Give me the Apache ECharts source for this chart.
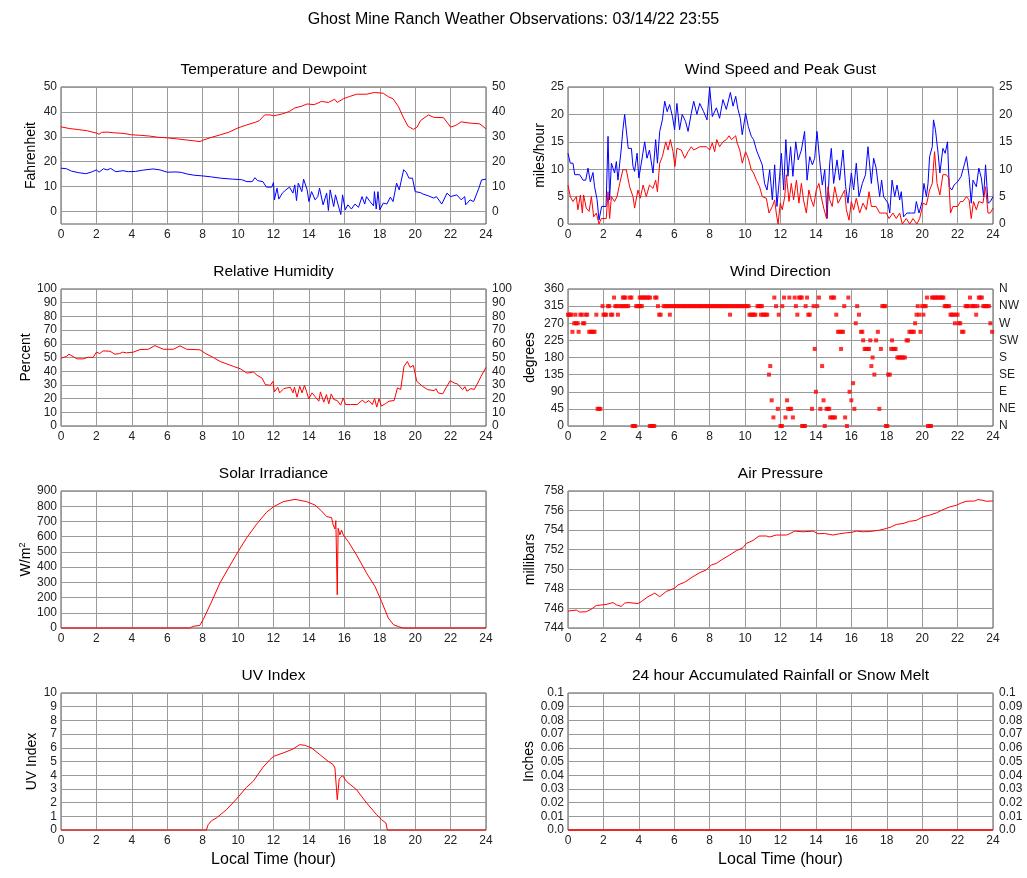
<!DOCTYPE html>
<html>
<head>
<meta charset="utf-8">
<title>Ghost Mine Ranch Weather Observations</title>
<script src="https://cdn.jsdelivr.net/npm/echarts@6/dist/echarts.min.js"></script>
<style>
  html, body { margin: 0; padding: 0; background: #fff; }
  #main { width: 1027px; height: 878px; }
</style>
</head>
<body>
<div id="main"></div>
<script>
// readings as [local hour, value]
var temperature = [[0,34],[0.5,33.3],[1,32.9],[1.5,32.4],[2,31.5],[2.15,31],[2.3,31.8],[2.6,31.9],[3,31.6],[3.5,31.4],[4,30.8],[4.5,30.6],[5,30.3],[5.5,29.8],[6,29.6],[6.5,29.2],[7,28.8],[7.5,28.4],[7.85,28.1],[8,28.6],[8.5,29.8],[9,30.8],[9.5,31.9],[10,33.6],[10.5,34.8],[11,35.9],[11.2,36.5],[11.5,38.8],[11.8,38.8],[12,38.4],[12.5,39.2],[12.9,40.2],[13.2,41.6],[13.6,42.3],[13.9,43.2],[14.3,42.9],[14.7,44.2],[15.1,43.8],[15.45,45.1],[15.6,43.8],[15.95,45.3],[16.3,46.2],[16.7,47.1],[17.25,47.1],[17.7,47.8],[18.2,47.5],[18.5,46],[18.75,45.3],[19.05,42.2],[19.35,37.5],[19.6,34.2],[19.9,33],[20.1,33.8],[20.3,36.5],[20.75,38.8],[21.05,37.8],[21.6,37.7],[22,33.9],[22.3,34.6],[22.6,36],[23.1,35.5],[23.65,35.2],[24,33.2]];
var dewpoint = [[0,17.4],[0.3,17.2],[0.6,16.2],[1,15.6],[1.4,15.2],[1.7,15.8],[2,16.7],[2.15,15.8],[2.4,17.2],[2.6,16.7],[2.8,17.3],[3.1,16],[3.5,16.4],[3.8,16],[4.2,16.1],[4.6,16.6],[5.2,17.1],[5.6,16.7],[6,15.8],[6.5,15.9],[6.8,15.7],[7.1,15.1],[7.5,14.6],[8,14.3],[8.5,13.9],[9,13.4],[9.7,13],[10.2,12.8],[10.5,12],[10.8,12],[10.95,13.6],[11.1,12.4],[11.4,12],[11.6,9.8],[11.9,9.8],[12,11.7],[12.05,4.7],[12.2,9.4],[12.3,5],[12.5,7.4],[12.7,8.7],[12.9,9.8],[13.1,7.4],[13.2,10.7],[13.3,4.4],[13.4,11.4],[13.6,8],[13.7,13],[13.9,8.7],[14,4],[14.15,8],[14.35,4.7],[14.5,6],[14.6,9.4],[14.8,2.7],[15,7.4],[15.1,0.4],[15.2,8.7],[15.4,2],[15.5,6.7],[15.65,2.7],[15.8,-1.2],[15.9,6.7],[16.05,0.7],[16.2,2.7],[16.4,1],[16.6,3],[16.8,1.7],[17,6],[17.15,3],[17.25,6],[17.45,4],[17.65,2.3],[17.7,8],[17.8,1],[17.9,8],[18,0.7],[18.2,3.4],[18.4,3],[18.6,5.8],[18.75,4],[18.95,11.4],[19.1,8.7],[19.35,16.8],[19.5,15.7],[19.65,13.4],[19.85,13.4],[20,8],[20.3,7.6],[20.45,7],[20.75,6.3],[21.05,5.4],[21.2,6],[21.5,3],[21.8,7.4],[22,6],[22.35,6.7],[22.6,4.7],[22.8,6],[22.85,2.7],[23.1,4.7],[23.3,4],[23.6,9.4],[23.75,12.7],[24,13]];
var windSpeed = [[0,7.1],[0.13,5],[0.28,4.1],[0.47,5],[0.56,2.6],[0.7,5.3],[0.81,2],[0.88,5.3],[1.03,2.9],[1.19,2.3],[1.32,5],[1.45,1.3],[1.6,2],[1.75,0],[1.88,1],[2.16,1],[2.26,5.9],[2.35,1],[2.45,5],[2.63,4.1],[2.77,5],[2.92,7.4],[3.1,9.9],[3.29,9.9],[3.48,6.8],[3.67,5],[3.76,2.9],[3.95,6.2],[4.08,4.7],[4.24,7.1],[4.42,5],[4.6,7.1],[4.8,6.5],[4.95,8],[5.05,5.9],[5.18,11.1],[5.33,12.3],[5.52,15],[5.65,13.5],[5.78,15.4],[5.93,13.2],[6.04,10.5],[6.15,13.8],[6.4,13.5],[6.59,12],[6.78,13.2],[6.96,14.1],[7.1,13.5],[7.44,14.1],[7.81,14.1],[8,13.5],[8.15,14.8],[8.28,13.2],[8.4,15.4],[8.56,14.1],[8.75,15],[8.94,15.4],[9.1,16.1],[9.23,15.4],[9.47,16.1],[9.55,14.8],[9.7,13.5],[9.84,11.1],[10.03,13.2],[10.18,12],[10.35,9.9],[10.48,9.3],[10.64,8],[10.82,6.8],[10.97,5],[11.2,4.7],[11.35,2],[11.54,3.2],[11.67,4.4],[11.76,2],[11.86,0],[11.99,3.8],[12.1,2.6],[12.24,5],[12.33,9],[12.48,4.1],[12.61,7.4],[12.74,4.4],[12.9,8],[13.04,3.8],[13.18,7.4],[13.3,4.4],[13.46,2],[13.6,6.2],[13.74,4.4],[13.87,3.2],[14.02,6.2],[14.17,7.4],[14.3,5],[14.44,2.9],[14.6,1],[14.68,6.8],[14.78,4.4],[14.92,3.2],[15.06,6.8],[15.25,3.8],[15.44,5],[15.62,6.2],[15.72,2.6],[15.87,0.7],[16,4.1],[16.13,2.6],[16.28,4.7],[16.47,2],[16.66,3.8],[16.85,2.6],[17,5.9],[17.13,3.2],[17.4,3.2],[17.6,2],[17.98,2],[18.13,1],[18.35,2],[18.54,1],[18.73,2],[18.88,0],[19.1,1],[19.3,0],[19.48,1],[19.7,0],[19.86,1],[20.05,3.8],[20.24,3.5],[20.42,6.2],[20.57,7.4],[20.7,13.2],[20.84,7.4],[21,5.3],[21.17,9],[21.36,9],[21.5,8.4],[21.6,2],[21.74,3.2],[22,3.2],[22.16,4.1],[22.3,4.1],[22.5,5],[22.65,4.4],[22.77,1],[22.9,4.1],[23.06,2.6],[23.2,4.1],[23.43,3.8],[23.58,6.8],[23.72,2],[23.85,2],[24,2.9]];
var peakGust = [[0,12.9],[0.13,11.1],[0.28,11.1],[0.38,9],[0.66,9],[0.85,8],[1,8],[1.13,10.2],[1.26,7.7],[1.41,9.4],[1.5,6.8],[1.64,4.5],[1.75,0.7],[1.9,3.2],[2.15,3.2],[2.26,16],[2.35,4.4],[2.45,11.1],[2.63,9.3],[2.73,11.4],[2.82,8],[3,13.5],[3.1,17.2],[3.2,20],[3.4,13.8],[3.58,13.8],[3.67,10.5],[3.76,9.6],[3.9,12.9],[4,8.4],[4.14,11.1],[4.33,15],[4.46,12],[4.6,13.5],[4.8,9.3],[4.95,15.4],[5.05,11.1],[5.18,16.9],[5.33,19],[5.46,22.4],[5.6,20.5],[5.74,21.8],[5.9,19.6],[6.02,17.2],[6.15,22],[6.3,17.2],[6.45,20],[6.64,18.7],[6.78,16.9],[6.96,20.2],[7.1,22.4],[7.28,20],[7.44,22],[7.66,20.5],[7.85,19],[8,25],[8.15,19.6],[8.38,21.2],[8.56,19.3],[8.75,22.7],[8.94,20.9],[9.17,24],[9.32,21.5],[9.47,23.3],[9.6,20.9],[9.73,19.3],[9.84,16.3],[10.03,20.2],[10.18,17.8],[10.35,16],[10.48,15.4],[10.64,13.5],[10.86,11.7],[10.97,10.8],[11.1,7.4],[11.24,6.2],[11.39,9.9],[11.54,4.4],[11.67,10.8],[11.8,3.2],[11.95,8.7],[12.05,12.9],[12.18,6.2],[12.3,15.4],[12.42,8.7],[12.57,14.1],[12.7,8.7],[12.86,15],[13,11.7],[13.18,13.5],[13.36,16.9],[13.5,8],[13.65,12.3],[13.8,10.8],[13.93,12],[14.06,16.9],[14.21,11.7],[14.36,7.1],[14.5,9.9],[14.63,1],[14.78,11.1],[14.87,13.8],[15,7.4],[15.19,11.7],[15.34,8],[15.53,13.5],[15.68,6.8],[15.81,3.8],[16,9.3],[16.13,6.2],[16.28,11.1],[16.43,5],[16.62,7.4],[16.8,9],[16.94,14.1],[17.13,7.4],[17.26,12],[17.4,10.2],[17.6,5],[17.71,8],[17.82,5],[18.07,3.8],[18.17,2],[18.3,8],[18.45,5],[18.58,7.1],[18.73,4.4],[18.82,5.9],[18.95,1.3],[19.14,2],[19.4,2],[19.58,2],[19.67,4.1],[19.82,2],[20,4.1],[20.1,7.4],[20.24,5],[20.33,7.4],[20.42,12.3],[20.57,14.1],[20.64,19],[20.75,17.2],[20.9,12.9],[21,9.3],[21.17,13.8],[21.3,12.9],[21.43,15],[21.53,6.8],[21.67,6.2],[21.8,7.1],[22,7.7],[22.2,8.7],[22.38,10.8],[22.5,12.3],[22.65,8.7],[22.77,3.8],[22.87,8],[23.06,6.8],[23.2,10.2],[23.34,8.4],[23.47,5],[23.58,10.8],[23.72,3.8],[23.85,4.1],[24,5]];
var humidity = [[0,49.5],[0.3,50.7],[0.45,52.4],[0.68,50.7],[0.9,49],[1.25,49],[1.34,47.8],[1.53,50.2],[1.81,50],[2,53.9],[2.19,52.9],[2.38,54.8],[2.76,54.6],[3.04,52.4],[3.32,52.9],[3.47,53.9],[3.7,53.4],[4.08,53.9],[4.46,55.8],[4.93,56],[5.3,58.7],[5.78,56],[6.34,56],[6.72,58.5],[7.1,56],[7.85,55.6],[8.14,53.1],[8.6,50],[8.99,47.1],[9.74,43.5],[10.12,41.8],[10.5,38.6],[10.88,39.4],[11.07,37],[11.35,35],[11.54,30.2],[11.82,29.7],[11.97,32.6],[12.05,24.9],[12.24,28.3],[12.35,24.2],[12.58,27.3],[12.95,28.3],[13.1,24.2],[13.18,28.3],[13.33,21],[13.48,29],[13.61,24.2],[13.75,29.7],[13.86,25.4],[13.99,19.8],[14.18,24.2],[14.37,21],[14.56,18.1],[14.65,24.9],[14.84,17.4],[14.99,22.9],[15.12,16.2],[15.26,23.4],[15.41,19.3],[15.6,18.6],[15.79,15.2],[15.94,20.5],[16.07,15.7],[16.35,15.7],[16.73,15.7],[17.01,18.8],[17.2,16.9],[17.39,18.6],[17.58,15.7],[17.71,20],[17.83,13.8],[17.96,20],[18.09,14.5],[18.33,16.4],[18.52,18.1],[18.81,18.6],[19,27.8],[19.18,26.6],[19.37,43.5],[19.56,47.1],[19.71,42.8],[19.9,44.2],[20.09,32.6],[20.41,29],[20.7,26.6],[21.07,25.8],[21.17,27.3],[21.3,24.2],[21.55,23.4],[21.74,27.8],[21.98,33.1],[22.2,31.4],[22.39,30.7],[22.68,26.6],[22.81,28.7],[22.92,25.4],[23.15,27.3],[23.34,26.6],[23.72,36.2],[24,42.8]];
var windDirection = [[0,292.5],[0.07,292.5],[0.13,292.5],[0.2,292.5],[0.25,247.5],[0.35,270],[0.42,292.5],[0.45,270],[0.55,270],[0.6,247.5],[0.7,292.5],[0.78,292.5],[0.85,270],[0.92,270],[1,292.5],[1.08,292.5],[1.2,247.5],[1.28,247.5],[1.36,247.5],[1.44,247.5],[1.5,247.5],[1.6,292.5],[1.67,45],[1.75,45],[1.83,45],[1.95,315],[2,292.5],[2.08,292.5],[2.15,292.5],[2.25,315],[2.33,315],[2.42,292.5],[2.5,292.5],[2.6,337.5],[2.67,315],[2.75,315],[2.82,292.5],[2.9,315],[3,315],[3.1,337.5],[3.17,337.5],[3.25,337.5],[3.12,315],[3.2,315],[3.3,315],[3.4,315],[3.5,337.5],[3.58,337.5],[3.65,0],[3.72,0],[3.8,0],[3.85,315],[3.93,315],[4,315],[4.08,315],[4.17,315],[4.05,337.5],[4.13,337.5],[4.22,337.5],[4.3,337.5],[4.38,337.5],[4.47,337.5],[4.55,337.5],[4.63,337.5],[4.62,0],[4.7,0],[4.78,0],[4.87,0],[4.92,337.5],[5,337.5],[5.08,315],[5.15,292.5],[5.23,292.5],[5.4,315],[5.5,315],[5.6,315],[5.7,315],[5.75,292.5],[5.8,315],[5.9,315],[6,315],[6.1,315],[6.2,315],[6.3,315],[6.4,315],[6.5,315],[6.6,315],[6.7,315],[6.8,315],[6.9,315],[7,315],[7.1,315],[7.2,315],[7.3,315],[7.4,315],[7.5,315],[7.6,315],[7.7,315],[7.8,315],[7.9,315],[8,315],[8.1,315],[8.2,315],[8.3,315],[8.4,315],[8.5,315],[8.6,315],[8.7,315],[8.8,315],[8.9,315],[9,315],[9.1,315],[9.15,292.5],[9.2,315],[9.3,315],[9.4,315],[9.5,315],[9.6,315],[9.7,315],[9.8,315],[9.9,315],[10,315],[10.1,315],[10.2,315],[10.25,292.5],[10.33,292.5],[10.42,292.5],[10.5,292.5],[10.58,292.5],[10.7,315],[10.78,315],[10.87,315],[10.95,315],[10.9,292.5],[11,292.5],[11.08,292.5],[11.17,292.5],[11.25,292.5],[11.35,135],[11.42,157.5],[11.5,67.5],[11.6,22.5],[11.65,337.5],[11.75,315],[11.85,45],[11.9,292.5],[12,0],[12.08,0],[12.1,315],[12.2,337.5],[12.28,22.5],[12.37,67.5],[12.43,45],[12.5,337.5],[12.52,45],[12.6,45],[12.7,22.5],[12.8,337.5],[12.87,315],[12.95,292.5],[13.05,337.5],[13.12,337.5],[13.2,337.5],[13.22,0],[13.3,0],[13.38,0],[13.42,315],[13.5,337.5],[13.57,292.5],[13.65,292.5],[13.78,45],[13.87,315],[13.93,202.5],[14,90],[14.07,315],[14.17,337.5],[14.25,45],[14.35,157.5],[14.43,67.5],[14.5,0],[14.6,45],[14.68,45],[14.75,45],[14.8,22.5],[14.9,22.5],[15,22.5],[15.08,22.5],[14.85,337.5],[14.95,337.5],[15.03,337.5],[15.15,292.5],[15.25,247.5],[15.33,247.5],[15.42,202.5],[15.45,247.5],[15.53,247.5],[15.6,315],[15.65,22.5],[15.75,0],[15.83,337.5],[15.9,90],[16,67.5],[16.1,112.5],[16.17,45],[16.25,270],[16.33,315],[16.43,292.5],[16.55,247.5],[16.62,247.5],[16.67,225],[16.75,202.5],[16.83,202.5],[16.92,202.5],[17,202.5],[17.07,225],[17.13,157.5],[17.2,180],[17.3,135],[17.4,225],[17.5,247.5],[17.58,45],[17.67,202.5],[17.75,315],[17.83,315],[17.92,315],[17.95,0],[18.03,0],[18.08,135],[18.17,135],[18.25,202.5],[18.3,225],[18.35,202.5],[18.43,202.5],[18.5,202.5],[18.6,180],[18.68,180],[18.77,180],[18.85,180],[18.93,180],[19.02,180],[19.12,225],[19.2,225],[19.28,247.5],[19.37,247.5],[19.45,247.5],[19.53,247.5],[19.6,270],[19.68,292.5],[19.75,315],[19.83,292.5],[19.9,247.5],[20,315],[20.07,292.5],[20.13,315],[20.2,315],[20.27,337.5],[20.33,0],[20.42,0],[20.5,0],[20.55,337.5],[20.63,337.5],[20.72,337.5],[20.8,337.5],[20.88,337.5],[20.97,337.5],[21.05,337.5],[21.13,337.5],[21.2,337.5],[21.27,315],[21.35,315],[21.43,315],[21.52,315],[21.6,292.5],[21.68,292.5],[21.77,292.5],[21.85,270],[21.9,292.5],[22,292.5],[22.07,270],[22.15,270],[22.25,247.5],[22.33,247.5],[22.45,315],[22.53,315],[22.6,315],[22.7,337.5],[22.8,315],[22.88,315],[22.97,315],[23.05,292.5],[23.12,315],[23.2,337.5],[23.28,337.5],[23.37,337.5],[23.45,315],[23.53,315],[23.6,315],[23.68,315],[23.77,315],[23.85,270],[23.95,247.5]];
var solar = [[0,0],[7.27,0],[7.46,11],[7.84,17],[8.03,55],[8.6,197],[8.97,295],[9.53,408],[10,502],[10.47,590],[11.04,681],[11.6,760],[12.01,797],[12.55,830],[13.21,845],[13.87,830],[14.34,808],[14.71,769],[15,732],[15.09,743],[15.28,725],[15.37,677],[15.47,651],[15.52,705],[15.6,218],[15.65,655],[15.75,611],[15.84,644],[15.94,611],[16.22,568],[16.69,480],[17.26,360],[17.73,273],[18.1,175],[18.48,66],[18.77,22],[19.05,9],[19.33,0],[24,0]];
var pressure = [[0,745.73],[0.47,745.83],[0.66,745.63],[1.03,745.66],[1.32,745.93],[1.6,746.3],[1.98,746.37],[2.16,746.4],[2.54,746.6],[2.73,746.37],[3,746.2],[3.2,746.54],[3.39,746.6],[3.95,746.5],[4.14,746.7],[4.52,747.2],[4.9,747.56],[5.18,747.2],[5.55,747.73],[6.02,748.07],[6.21,748.4],[6.59,748.68],[7.06,749.25],[7.44,749.66],[7.81,749.93],[8.09,750.44],[8.38,750.6],[8.66,750.95],[9.13,751.46],[9.51,751.9],[9.88,752.2],[10.07,752.64],[10.45,752.95],[10.79,753.4],[11.2,753.4],[11.39,753.3],[11.76,753.5],[12.33,753.5],[12.52,753.63],[12.8,753.9],[13.27,753.83],[13.84,753.9],[14.12,753.63],[14.49,753.66],[14.96,753.5],[15.34,753.63],[15.72,753.73],[16.09,753.8],[16.28,753.9],[16.66,753.83],[17.04,753.86],[17.6,754],[17.98,754.17],[18.26,754.34],[18.54,754.58],[18.92,754.68],[19.29,754.9],[19.67,755],[20.05,755.36],[20.42,755.53],[20.8,755.76],[21.18,756.1],[21.55,756.37],[21.93,756.54],[22.21,756.78],[22.49,756.95],[22.96,756.98],[23.15,757.12],[23.43,757.05],[23.62,756.95],[24,756.98]];
var uvIndex = [[0,0],[8.21,0],[8.31,0.39],[8.5,0.68],[8.78,0.88],[9.34,1.48],[9.91,2.26],[10.47,3.11],[10.85,3.55],[11.42,4.6],[11.79,5.13],[12.01,5.38],[12.54,5.62],[13.1,5.91],[13.48,6.23],[13.77,6.18],[14.15,5.99],[14.62,5.5],[15.09,5.01],[15.37,4.77],[15.47,4.53],[15.6,2.21],[15.71,3.72],[15.9,3.97],[16.12,3.55],[16.69,2.94],[17.26,1.97],[17.82,1.12],[18.1,0.75],[18.35,0.51],[18.43,0],[24,0]];
var rainfall = [[0,0],[24,0]];

var tempTicks = [0, 10, 20, 30, 40, 50];
var compass = ['N', 'NE', 'E', 'SE', 'S', 'SW', 'W', 'NW', 'N'];

var FONT = '"Liberation Sans", Arial, Helvetica, sans-serif';
var RED = '#ff0000', BLUE = '#0000ff';
var COLS = [61, 568], TOPS = [87, 289, 491, 693];
var PW = 425, PH = 137;

var panels = [
  {title: 'Temperature and Dewpoint', col: 0, row: 0, name: 'Fahrenheit', gap: 23, min: -5, max: 50, ticks: tempTicks, right: 'same',
   series: [{data: temperature, color: RED}, {data: dewpoint, color: BLUE}]},
  {title: 'Wind Speed and Peak Gust', col: 1, row: 0, name: 'miles/hour', gap: 21, min: 0, max: 25, step: 5, right: 'same',
   series: [{data: peakGust, color: BLUE}, {data: windSpeed, color: RED}]},
  {title: 'Relative Humidity', col: 0, row: 1, name: 'Percent', gap: 27, min: 0, max: 100, step: 10, right: 'same',
   series: [{data: humidity, color: RED}]},
  {title: 'Wind Direction', col: 1, row: 1, name: 'degrees', gap: 31, min: 0, max: 360, step: 45, right: 'compass',
   series: [{data: windDirection, color: RED, scatter: true}]},
  {title: 'Solar Irradiance', col: 0, row: 2, name: 'W/m{sup|2}', gap: 27, min: 0, max: 900, step: 100,
   series: [{data: solar, color: RED}]},
  {title: 'Air Pressure', col: 1, row: 2, name: 'millibars', gap: 31, min: 744, max: 758, step: 2,
   series: [{data: pressure, color: RED}]},
  {title: 'UV Index', col: 0, row: 3, name: 'UV Index', gap: 22, min: 0, max: 10, step: 1, bottom: true,
   series: [{data: uvIndex, color: RED}]},
  {title: '24 hour Accumulated Rainfall or Snow Melt', col: 1, row: 3, name: 'Inches', gap: 32, min: 0, max: 0.1, step: 0.01, right: 'same', bottom: true,
   fmt: function (v) { return v === 0 ? '0.0' : String(Math.round(v * 100) / 100); },
   series: [{data: rainfall, color: RED, width: 1.5}]}
];

var grids = [], xAxes = [], yAxes = [], series = [], texts = [];

texts.push({type: 'text', left: 'center', top: 12, style: {
  text: 'Ghost Mine Ranch Weather Observations: 03/14/22 23:55',
  fontSize: 16, fontFamily: FONT, fill: '#000'}});

panels.forEach(function (p, i) {
  var left = COLS[p.col], top = TOPS[p.row];
  grids.push({left: left, top: top, width: PW, height: PH, show: true,
    borderColor: '#555', borderWidth: 1, backgroundColor: '#fff'});

  texts.push({type: 'text', x: left + PW / 2, y: top - 17, style: {
    text: p.title, fontSize: 15.5, fontFamily: FONT, fill: '#000',
    align: 'center', verticalAlign: 'middle'}});

  xAxes.push({type: 'value', gridIndex: i, min: 0, max: 24, interval: 2,
    axisLine: {show: false}, axisTick: {show: false},
    axisLabel: {color: '#222', fontSize: 12, fontFamily: FONT, margin: 5},
    splitLine: {show: true, lineStyle: {color: '#9a9a9a', width: 1}},
    name: p.bottom ? 'Local Time (hour)' : '', nameLocation: 'middle', nameGap: 22,
    nameTextStyle: {fontSize: 16, fontFamily: FONT, color: '#000'}});

  function yAxis(pos) {
    var ax = {type: 'value', gridIndex: i, position: pos, min: p.min, max: p.max,
      axisLine: {show: false},
      axisTick: {show: false},
      axisLabel: {color: '#222', fontSize: 12, fontFamily: FONT, margin: pos === 'left' ? 4 : 6},
      splitLine: {show: pos === 'left', lineStyle: {color: '#9a9a9a', width: 1}}};
    if (p.ticks) {
      ax.axisLabel.customValues = p.ticks;
      ax.axisTick.customValues = p.ticks;
    } else {
      ax.interval = p.step;
    }
    if (p.fmt) ax.axisLabel.formatter = p.fmt;
    return ax;
  }

  var leftAx = yAxis('left');
  leftAx.name = p.name;
  leftAx.nameLocation = 'middle';
  leftAx.nameGap = p.gap;
  leftAx.nameTextStyle = {fontSize: 14, fontFamily: FONT, color: '#000',
    rich: {sup: {fontSize: 9, fontFamily: FONT, verticalAlign: 'top', lineHeight: 16}}};
  yAxes.push(leftAx);
  var yIndex = yAxes.length - 1;

  if (p.right) {
    var rightAx = yAxis('right');
    if (p.right === 'compass') {
      rightAx.axisLabel.formatter = function (v) { return compass[Math.round(v / 45)]; };
    }
    yAxes.push(rightAx);
  }

  p.series.forEach(function (s) {
    if (s.scatter) {
      series.push({type: 'scatter', xAxisIndex: i, yAxisIndex: yIndex, data: s.data,
        symbol: 'rect', symbolSize: 4, itemStyle: {color: s.color}, silent: true});
    } else {
      series.push({type: 'line', xAxisIndex: i, yAxisIndex: yIndex, data: s.data,
        showSymbol: false, symbol: 'none', clip: false,
        lineStyle: {color: s.color, width: s.width || 1}, silent: true});
    }
  });
});

var chart = echarts.init(document.getElementById('main'));
chart.setOption({
  animation: false,
  backgroundColor: '#fff',
  grid: grids,
  xAxis: xAxes,
  yAxis: yAxes,
  series: series,
  graphic: texts
});
</script>
</body>
</html>
